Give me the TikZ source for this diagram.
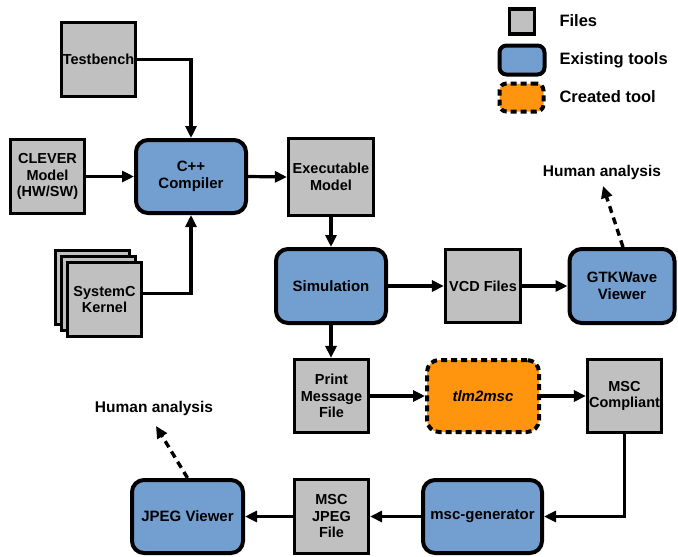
\documentclass[tikz,border=0pt]{standalone}
\usepackage{fontspec}
\setmainfont{Liberation Sans}
\usetikzlibrary{arrows.meta,calc}
\definecolor{filegray}{HTML}{C0C0C0}
\definecolor{toolblue}{HTML}{729FCF}
\definecolor{neworange}{HTML}{FF950E}
\tikzset{
  filebox/.style={draw=black, line width=3.2pt, fill=filegray, align=center,
    font=\bfseries\fontsize{14.5}{16.5}\selectfont, inner sep=1pt},
  toolbox/.style={draw=black, line width=4pt, fill=toolblue, rounded corners=12pt,
    align=center, font=\bfseries\fontsize{15}{17}\selectfont},
  newtool/.style={draw=black, line width=4pt, fill=neworange, rounded corners=12pt,
    dash pattern=on 6pt off 4pt, align=center, font=\bfseries\itshape\fontsize{15}{17}\selectfont},
  arr/.style={draw=black, line width=3.2pt, -{Triangle[length=12pt,width=11pt]}},
  humanarr/.style={draw=black, line width=3.4pt, dash pattern=on 7pt off 5pt,
    -{Triangle[length=12pt,width=11pt]}},
  legtext/.style={anchor=west, font=\bfseries\fontsize{16.5}{18}\selectfont},
  humantext/.style={font=\bfseries\fontsize{15.5}{17}\selectfont},
}
\begin{document}
\begin{tikzpicture}[x=1pt,y=-1pt]
\useasboundingbox (0,0) rectangle (678,557);

% legend
\node[filebox, minimum width=25pt, minimum height=25pt] (legfile) at (522,21.5) {};
\node[toolbox, minimum width=45pt, minimum height=29pt, rounded corners=7pt] (legtool) at (522,60) {};
\node[newtool, minimum width=44pt, minimum height=28pt, rounded corners=7pt] (legnew) at (521.5,97.5) {};
\node[legtext] (legfiletext) at (556,21) {Files};
\node[legtext] (legtooltext) at (556,60) {Existing tools};
\node[legtext] (legnewtext) at (556,97) {Created tool};

% compile stage
\node[filebox, minimum width=74pt, minimum height=74pt] (tb) at (98.5,59.5) {Testbench};
\node[toolbox, minimum width=110pt, minimum height=73pt] (cpp) at (191,176.5) {C++\\Compiler};
\node[filebox, minimum width=74pt, minimum height=74pt] (clever) at (47.5,176.5) {CLEVER\\Model\\(HW/SW)};
\node[filebox, minimum width=85pt, minimum height=77pt] (exe) at (331,177) {Executable\\Model};

% SystemC kernel drawn as a stack of sheets
\node[filebox, minimum width=74pt, minimum height=74pt] (sysc3) at (92.5,287.5) {};
\node[filebox, minimum width=74pt, minimum height=74pt] (sysc2) at (98.5,293.5) {};
\node[filebox, minimum width=74pt, minimum height=74pt] (sysc) at (104.5,299.5) {SystemC\\Kernel};

% simulation stage
\node[toolbox, minimum width=110pt, minimum height=74pt] (sim) at (331,286) {Simulation};
\node[filebox, minimum width=75pt, minimum height=73pt] (vcd) at (483,286) {VCD Files};
\node[toolbox, minimum width=105pt, minimum height=74pt] (gtk) at (622,286) {GTKWave\\Viewer};

% message sequence chart stage
\node[filebox, minimum width=74pt, minimum height=73pt] (pmf) at (331.5,396) {Print\\Message\\File};
\node[newtool, minimum width=112pt, minimum height=72pt] (tlm) at (483,396) {tlm2msc};
\node[filebox, minimum width=74pt, minimum height=73pt] (mscc) at (624.5,396) {MSC\\Compliant};
\node[toolbox, minimum width=119pt, minimum height=73pt] (mscg) at (482.5,516.5) {msc-generator};
\node[filebox, minimum width=74pt, minimum height=74pt] (jpegf) at (331.5,516.5) {MSC\\JPEG\\File};
\node[toolbox, minimum width=111pt, minimum height=73pt] (jpegv) at (187.5,516.5) {JPEG Viewer};

% human analysis labels
\node[humantext] (hatop) at (602,172) {Human analysis};
\node[humantext] (habot) at (154,408) {Human analysis};
\coordinate (hatoptip) at (603,186);
\coordinate (habottip) at (156,426);

% connectors
\draw[arr] (tb.east) -| (cpp.north);
\draw[arr] (clever.east) -- (cpp.west);
\draw[arr] ($(sysc.east)+(0,-6)$) -| (cpp.south);
\draw[arr] (cpp.east) -- (exe.west);
\draw[arr] (exe.south) -- (sim.north);
\draw[arr] (sim.east) -- (vcd.west);
\draw[arr] (vcd.east) -- (gtk.west);
\draw[arr] (sim.south) -- (pmf.north -| sim.south);
\draw[arr] (pmf.east) -- (tlm.west);
\draw[arr] (tlm.east) -- (mscc.west);
\draw[arr] (mscc.south) |- (mscg.east);
\draw[arr] (mscg.west) -- (jpegf.east);
\draw[arr] (jpegf.west) -- (jpegv.east);
\draw[humanarr] ($(gtk.north)+(1,0)$) -- (hatoptip);
\draw[humanarr] (jpegv.north) -- (habottip);
\end{tikzpicture}
\end{document}
